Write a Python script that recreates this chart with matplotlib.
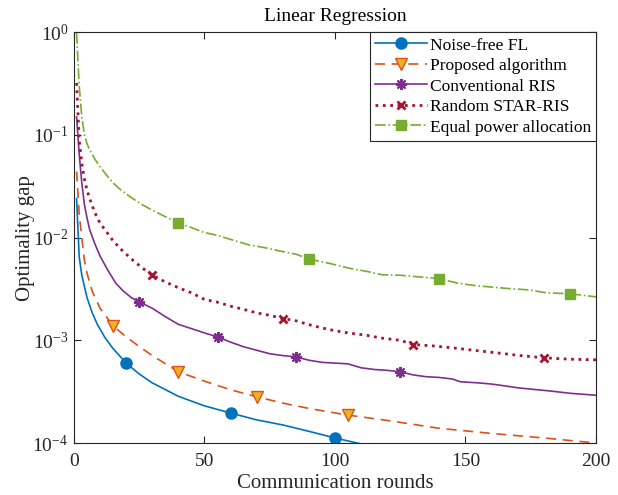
import numpy as np
import matplotlib
matplotlib.use('Agg')
import matplotlib.pyplot as plt
from matplotlib.ticker import NullLocator, LogFormatterMathtext

plt.rcParams['font.family'] = ['Liberation Serif', 'DejaVu Serif']
plt.rcParams['mathtext.fontset'] = 'custom'
plt.rcParams['mathtext.rm'] = 'Liberation Serif'
plt.rcParams['axes.unicode_minus'] = False

# 读图得到的数据 (communication round, optimality gap)
noise_x = [1, 2, 3, 5, 7, 9, 12, 15, 20, 25, 30, 40, 50, 60, 70, 80, 90, 100, 110, 120]
noise_y = [0.024, 6.5e-3, 4.3e-3, 2.6e-3, 1.85e-3, 1.42e-3, 1.05e-3, 8.3e-4, 6.0e-4, 4.7e-4,
           3.85e-4, 2.85e-4, 2.3e-4, 1.96e-4, 1.68e-4, 1.5e-4, 1.3e-4, 1.12e-4, 9.8e-5, 9.0e-5]
noise_mk = [20, 60, 100]

prop_x = [1, 2, 3, 4, 5, 7, 10, 15, 20, 25, 30, 40, 50, 60, 70, 80, 90, 105, 120, 140, 160, 180, 200]
prop_y = [0.044, 0.017, 0.010, 6.0e-3, 4.5e-3, 3.0e-3, 2.05e-3, 1.38e-3, 1.08e-3, 8.7e-4, 7.1e-4,
          4.95e-4, 4.0e-4, 3.3e-4, 2.82e-4, 2.45e-4, 2.17e-4, 1.87e-4, 1.66e-4, 1.39e-4, 1.24e-4,
          1.12e-4, 1.0e-4]
prop_mk = [15, 40, 70, 105]

conv_x = [1, 2, 3, 4, 5, 6, 8, 10, 13, 16, 19, 22, 25, 30, 35, 40, 45, 50, 55, 60, 65, 70, 75, 80,
          85, 90, 95, 100, 105, 110, 115, 120, 125, 130, 135, 140, 145, 148, 155, 160, 165, 170,
          176, 183, 190, 200]
conv_y = [0.15, 0.065, 0.034, 0.021, 0.0155, 0.012, 8.7e-3, 6.6e-3, 4.8e-3, 3.6e-3, 3.0e-3, 2.6e-3,
          2.37e-3, 2.05e-3, 1.7e-3, 1.43e-3, 1.3e-3, 1.18e-3, 1.08e-3, 9.6e-4, 8.65e-4, 8.0e-4,
          7.4e-4, 7.1e-4, 6.9e-4, 6.4e-4, 6.1e-4, 6.0e-4, 5.9e-4, 5.4e-4, 5.2e-4, 5.1e-4, 4.94e-4,
          4.6e-4, 4.42e-4, 4.35e-4, 4.2e-4, 3.95e-4, 3.85e-4, 3.75e-4, 3.6e-4, 3.45e-4, 3.33e-4,
          3.2e-4, 3.05e-4, 2.92e-4]
conv_mk = [25, 55, 85, 125]

rand_x = [1, 2, 3, 4, 5, 6, 8, 10, 12, 15, 18, 22, 26, 30, 35, 40, 45, 50, 55, 60, 65, 70, 75, 80,
          85, 90, 95, 100, 105, 112, 118, 125, 130, 138, 146, 155, 163, 171, 180, 190, 200]
rand_y = [0.32, 0.09, 0.053, 0.037, 0.029, 0.024, 0.0175, 0.0138, 0.0118, 9.3e-3, 7.7e-3, 6.2e-3,
          5.1e-3, 4.3e-3, 3.7e-3, 3.25e-3, 2.9e-3, 2.5e-3, 2.35e-3, 2.15e-3, 2.0e-3, 1.85e-3,
          1.75e-3, 1.63e-3, 1.55e-3, 1.42e-3, 1.32e-3, 1.24e-3, 1.18e-3, 1.12e-3, 1.05e-3, 1.0e-3,
          9.1e-4, 8.8e-4, 8.4e-4, 7.9e-4, 7.5e-4, 7.1e-4, 6.76e-4, 6.55e-4, 6.45e-4]
rand_mk = [30, 80, 130, 180]

equal_x = [1, 2, 3, 4, 5, 6, 8, 10, 12, 15, 18, 22, 26, 30, 35, 40, 45, 50, 55, 60, 67, 74, 80, 85,
           90, 98, 106, 112, 118, 125, 132, 140, 147, 154, 160, 166, 174, 181, 190, 200]
equal_y = [0.98, 0.3, 0.15, 0.1, 0.082, 0.072, 0.058, 0.049, 0.042, 0.034, 0.029, 0.0245, 0.021,
           0.0185, 0.016, 0.0139, 0.0125, 0.0112, 0.0105, 9.6e-3, 8.5e-3, 7.9e-3, 7.3e-3, 6.9e-3,
           6.18e-3, 5.6e-3, 5.0e-3, 4.7e-3, 4.35e-3, 4.3e-3, 4.15e-3, 3.98e-3, 3.6e-3, 3.4e-3,
           3.3e-3, 3.2e-3, 3.1e-3, 2.9e-3, 2.84e-3, 2.65e-3]
equal_mk = [40, 90, 140, 190]

labels = ['Noise-free FL', 'Proposed algorithm', 'Conventional RIS', 'Random STAR-RIS',
          'Equal power allocation']


def mk_idx(xs, marks):
    return [xs.index(m) for m in marks]


fig = plt.figure(figsize=(6.18, 4.95), dpi=100)
ax = fig.add_axes([0.1197, 0.105, 0.8447, 0.830])

ax.semilogy(noise_x, noise_y, '-', color='#0072BD', lw=1.2, marker='o', ms=8,
            mfc='#0072BD', mec='#0072BD', markevery=mk_idx(noise_x, noise_mk), label=labels[0])
ax.semilogy(prop_x, prop_y, '--', color='#D95319', lw=1.2, marker='v', ms=9,
            mfc='#EDB120', mec='#D95319', dashes=(6, 4), markevery=mk_idx(prop_x, prop_mk),
            label=labels[1])
ax.semilogy(conv_x, conv_y, '-', color='#7E2F8E', lw=1.2, marker=(8, 2, 0), ms=8, mew=1.5,
            mfc='#7E2F8E', mec='#7E2F8E', markevery=mk_idx(conv_x, conv_mk), label=labels[2])
ax.semilogy(rand_x, rand_y, ':', color='#A2142F', lw=2.0, marker='x', ms=6, mew=2,
            mec='#A2142F', markevery=mk_idx(rand_x, rand_mk), label=labels[3])
ax.semilogy(equal_x, equal_y, '-.', color='#77AC30', lw=1.2, marker='s', ms=7,
            mfc='#77AC30', mec='#77AC30', markevery=mk_idx(equal_x, equal_mk), label=labels[4])

ax.set_xlim(0, 200)
ax.set_ylim(1e-4, 1)
ax.set_xticks([0, 50, 100, 150, 200])
ax.set_yticks([1e-4, 1e-3, 1e-2, 1e-1, 1])
ax.yaxis.set_major_formatter(LogFormatterMathtext())
ax.yaxis.set_minor_locator(NullLocator())
ax.tick_params(direction='in', top=True, right=True, length=5, width=0.8,
               labelsize=14, colors='#262626')
ax.tick_params(axis='x', pad=7)
ax.tick_params(axis='y', pad=4)
for s in ax.spines.values():
    s.set_color('#262626')
    s.set_linewidth(0.8)

ax.set_xlabel('Communication rounds', fontsize=15, color='#262626', labelpad=3)
ax.set_ylabel('Optimality gap', fontsize=15, color='#262626', labelpad=-2)
ax.set_title('Linear Regression', fontsize=14, color='#000000', pad=8)

leg = ax.legend(loc='upper right', fontsize=12.5, borderaxespad=0, borderpad=0.3,
                labelspacing=0.25, handlelength=3.0, handletextpad=0.15, fancybox=False,
                framealpha=1, edgecolor='#262626')
leg.get_frame().set_linewidth(0.8)

plt.savefig('out.png', dpi=100)
